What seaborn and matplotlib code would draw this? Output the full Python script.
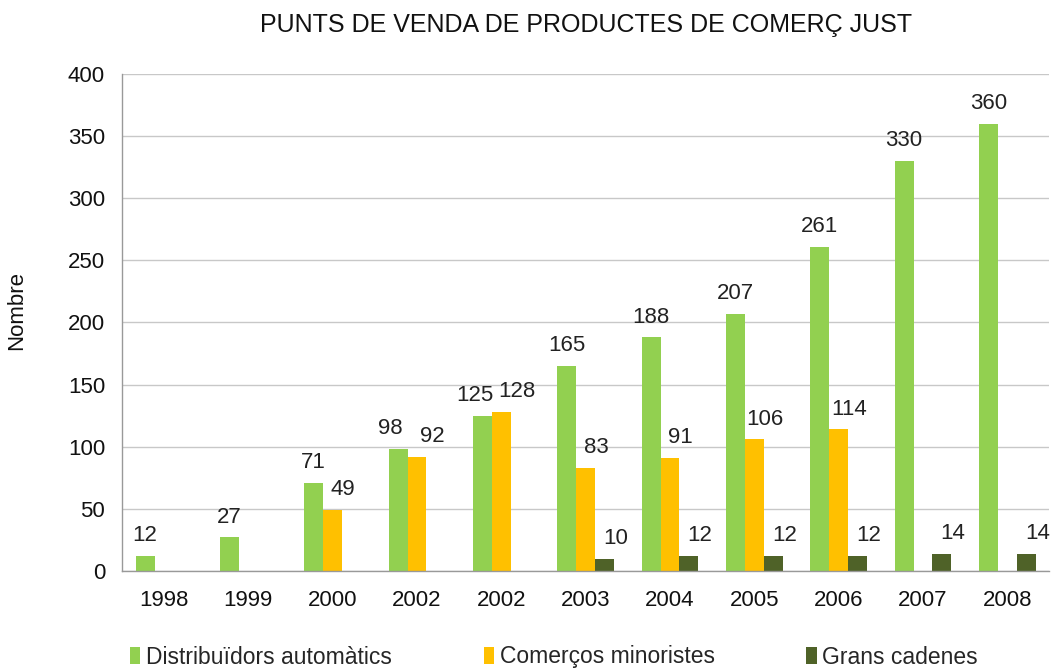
import matplotlib
matplotlib.use("Agg")
import matplotlib.pyplot as plt
import seaborn as sns
import numpy as np
import pandas as pd

years = ["1998", "1999", "2000", "2002", "2002", "2003", "2004", "2005", "2006", "2007", "2008"]
distribuidors = [12, 27, 71, 98, 125, 165, 188, 207, 261, 330, 360]
comercos = [np.nan, np.nan, 49, 92, 128, 83, 91, 106, 114, np.nan, np.nan]
grans = [np.nan, np.nan, np.nan, np.nan, np.nan, 10, 12, 12, 12, 14, 14]
series_names = ["Distribuïdors automàtics", "Comerços minoristes", "Grans cadenes"]
colors = ["#92D050", "#FFC000", "#4F6228"]

sns.set_theme(style="white")
plt.rcParams["font.family"] = ["Liberation Sans", "DejaVu Sans"]

rows = []
for name, vals in zip(series_names, [distribuidors, comercos, grans]):
    for i, v in enumerate(vals):
        rows.append({"idx": i, "serie": name, "valor": v})
df = pd.DataFrame(rows)

fig = plt.figure(figsize=(10.59, 6.70), dpi=100)
ax = fig.add_axes([0.115, 0.1478, 0.876, 0.7418])

sns.barplot(data=df, x="idx", y="valor", hue="serie", hue_order=series_names,
            order=list(range(len(years))), palette=colors, width=0.67,
            saturation=1, ax=ax, linewidth=0, legend=True)

# label offsets (points): nudge labels apart when neighbouring labels would collide
close = [(not np.isnan(c)) and abs(d - c) < 12 for d, c in zip(distribuidors, comercos)]
dx_green = [-5.5 if cl else 0.0 for cl in close]
dx_orange = [11.0 if cl else 7.5 for cl in close]
series_vals = [distribuidors, comercos, grans]
series_dx = [dx_green, dx_orange, [8.0] * len(years)]

for cont, vals, dxs in zip(ax.containers, series_vals, series_dx):
    valid_idx = [i for i, v in enumerate(vals) if not np.isnan(v)]
    anns = ax.bar_label(cont, fmt="%g", padding=7, fontsize=16, color="#222222")
    for a, i in zip(anns, valid_idx):
        a.xyann = (dxs[i], 7)

ax.set_ylim(0, 400)
ax.set_yticks(np.arange(0, 401, 50))
ax.set_xlim(-0.5, len(years) - 0.5)
ax.set_xticks(range(len(years)))
ax.set_xticklabels(years, fontsize=16)
ax.set_xticks(np.arange(-0.5, len(years), 1.0), minor=True)
ax.tick_params(axis="x", which="major", length=0, pad=14, colors="#111111")
ax.tick_params(axis="x", which="minor", length=7, color="#999999", width=1)
ax.tick_params(axis="y", which="major", length=6, labelsize=16, pad=6, colors="#111111")
for t in ax.yaxis.get_ticklines():
    t.set_color("#999999")
ax.yaxis.grid(True, color="#c8c8c8", linewidth=1)
ax.set_axisbelow(True)
for s in ["top", "right"]:
    ax.spines[s].set_visible(False)
for s in ["left", "bottom"]:
    ax.spines[s].set_color("#999999")
    ax.spines[s].set_linewidth(1)

ax.set_xlabel("")
ax.set_ylabel("Nombre", fontsize=16, color="#111111")
ax.yaxis.set_label_coords(-0.102, 0.525)
ax.set_title("PUNTS DE VENDA DE PRODUCTES DE COMERÇ JUST", fontsize=18, pad=30, color="#111111")

handles, labels = ax.get_legend_handles_labels()
ax.get_legend().remove()
fig.legend(handles, labels, loc="center left", bbox_to_anchor=(130 / 1059, 1 - 657 / 670),
           bbox_transform=fig.transFigure, ncol=3, frameon=False, fontsize=16.5,
           handlelength=0.45, handleheight=0.8, handletextpad=0.25, columnspacing=4.0,
           borderpad=0, borderaxespad=0)

fig.savefig("out.png", dpi=100)
